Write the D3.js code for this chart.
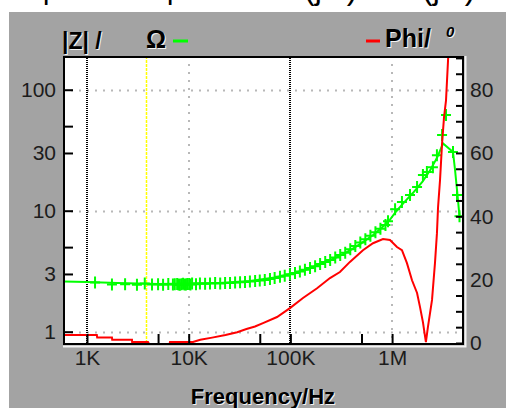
<!DOCTYPE html>
<html>
<head>
<meta charset="UTF-8">
<title>Impedance spectrum</title>
<script src="https://d3js.org/d3.v7.min.js"></script>
<style>
  body { margin: 0; background: #fff; }
  text { font-family: "Liberation Sans", Arial, sans-serif; }
</style>
</head>
<body>
<div id="chart"></div>
<script>

// tick values and labels
var freqTicks = [1e3, 5e3, 1e4, 5e4, 1e5, 5e5, 1e6];
var freqLabels = { 1e3: "1K", 1e4: "10K", 1e5: "100K", 1e6: "1M" };
var zTicks = [1, 3, 5, 10, 30, 50, 100];
var zLabels = [1, 3, 10, 30, 100];
var phiTicks = [0, 5, 10, 15, 20, 25, 30, 35, 40, 45, 50, 55, 60, 65, 70, 75, 80, 85, 90];
var phiLabels = [0, 20, 40, 60, 80];
var cursorFreq = 3800;

// |Z| measured points (green + markers)
var markFreq = [1200, 1760, 2370, 3100, 3700, 4360, 5000, 5600, 6300, 7000, 7300, 7700, 7950, 8200,
  8500, 8800, 9100, 9400, 9700, 10100, 10400, 10800, 11800, 12900, 14500, 16200, 18200, 20400, 22800,
  25500, 28600, 32000, 35800, 40000, 45000, 50000, 56000, 63000, 70000, 79000, 88000, 99000, 111000,
  124000, 139000, 156000, 175000, 196000, 220000, 246000, 276000, 309000, 346000, 388000, 435000,
  487000, 546000, 612000, 686000, 768000, 861000, 912000, 1070000, 1250000, 1500000, 1760000,
  2010000, 2200000, 2520000, 2760000, 3100000, 3390000, 3970000, 4350000, 4600000];
var markZ = [2.55, 2.45, 2.47, 2.44, 2.5, 2.45, 2.47, 2.44, 2.48, 2.45, 2.47, 2.48, 2.45, 2.44,
  2.47, 2.49, 2.46, 2.45, 2.48, 2.48, 2.46, 2.5, 2.47, 2.5, 2.49, 2.5, 2.52, 2.5, 2.53,
  2.52, 2.55, 2.56, 2.58, 2.6, 2.62, 2.65, 2.68, 2.72, 2.78, 2.84, 2.9, 2.98, 3.06,
  3.15, 3.25, 3.36, 3.48, 3.62, 3.76, 3.92, 4.1, 4.3, 4.5, 4.8, 5.1,
  5.45, 5.8, 6.2, 6.65, 7.1, 7.6, 8.2, 10.3, 11.8, 13.5, 15.7,
  19.7, 20.9, 22.9, 28.8, 42.3, 61.8, 30.6, 13.5, 9.0];

// |Z| fitted curve (green line)
var fitFreq = [581, 1000, 2000, 5000, 10000, 20000, 40000, 70000, 100000, 150000, 245000, 300000,
  400000, 500000, 650000, 800000, 950000, 1100000, 1300000, 1600000, 2000000, 2400000, 2800000,
  3170000, 3970000, 4160000, 4350000, 4600000];
var fitZ = [2.6, 2.58, 2.52, 2.48, 2.5, 2.53, 2.62, 2.8, 3.0, 3.3, 3.9, 4.2,
  4.8, 5.4, 6.3, 7.3, 8.4, 9.9, 11.6, 14, 17.5, 22, 28,
  36, 30.6, 21.7, 14.8, 9.0];

// phase (red line)
var phiFreq = [581, 1250, 1260, 1760, 1770, 2770, 2780, 3980, 4200, 6400, 6550, 11000, 13000, 17000,
  23000, 30000, 37000, 44900, 53800, 73900, 99000, 133000, 183000, 245000, 307000, 385000, 517000,
  649000, 814000, 953000, 1117000, 1250000, 1400000, 1570000, 1760000, 1880000, 2010000, 2150000,
  2250000, 2470000, 2640000, 2760000, 2830000, 2960000, 3100000, 3240000, 3390000, 3550000, 3630000];
var phiDeg = [2.5, 2.5, 1.7, 1.7, 1.0, 1.0, 0.3, 0.3, -1, -1, 0.3, 0.3, 1.0, 1.7,
  2.5, 3.4, 4.4, 5.2, 6.3, 8.2, 11, 14.2, 17.3, 20.5, 22.4, 25.6, 29.3,
  31.5, 32.8, 32.5, 30.3, 29.3, 25.2, 19.8, 15.8, 11.4, 6.6, 0.3,
  5, 13.6, 25.2, 34.6, 42.8, 51.4, 63, 71.2, 76.6, 89.3, 95.6];

var width = 506, height = 408;
var plot = { left: 63, top: 56, right: 463, bottom: 344 };

var svg = d3.select("#chart").append("svg")
  .attr("width", width)
  .attr("height", height);

// gray panel
svg.append("rect")
  .attr("x", 9).attr("y", 12)
  .attr("width", width - 9).attr("height", height - 12)
  .attr("fill", "#a3a3a3");

// bottom of a text line above, cut off by the picture edge
var topFrag = svg.append("g")
  .style("font-family", "'Liberation Serif', serif")
  .style("font-size", "32px")
  .attr("fill", "#000");
topFrag.append("text").attr("x", 42).attr("y", -2).text("|");
topFrag.append("text").attr("x", 166).attr("y", -2).text("|");
topFrag.append("text").attr("x", 304).attr("y", -1).text("(jω)");
topFrag.append("text").attr("x", 422).attr("y", -1).text("(jω)");
svg.append("rect").attr("x", 0).attr("y", 12).attr("width", width).attr("height", 30).attr("fill", "#a3a3a3");
svg.append("rect").attr("x", 0).attr("y", 12).attr("width", 9).attr("height", height).attr("fill", "#fff");

var x = d3.scaleLog().domain([581, 4.98e6]).range([plot.left, plot.right]);
var yZ = d3.scaleLog().domain([0.791, 190]).range([plot.bottom, plot.top]);
var yPhi = d3.scaleLinear().domain([0, 90.6]).range([343, plot.top]);

svg.append("rect")
  .attr("x", plot.left).attr("y", plot.top)
  .attr("width", plot.right - plot.left).attr("height", plot.bottom - plot.top)
  .attr("fill", "#fff");

svg.append("clipPath").attr("id", "clip")
  .append("rect")
  .attr("x", plot.left + 1).attr("y", plot.top + 1)
  .attr("width", plot.right - plot.left - 2).attr("height", plot.bottom - plot.top - 2);

var grid = svg.append("g");

// horizontal grid at decades of |Z|
[1, 10, 100].forEach(function (v) {
  grid.append("line")
    .attr("x1", plot.left).attr("x2", plot.right)
    .attr("y1", Math.round(yZ(v)) + 0.5).attr("y2", Math.round(yZ(v)) + 0.5)
    .attr("stroke", "#b8b8b8").attr("stroke-width", 2)
    .attr("stroke-dasharray", "2,6");
});

// vertical grid
[1e3, 1e4, 1e5, 1e6].forEach(function (f, i) {
  var dark = (i % 2 == 0);
  grid.append("line")
    .attr("x1", Math.round(x(f))).attr("x2", Math.round(x(f)))
    .attr("y1", plot.top).attr("y2", plot.bottom)
    .attr("stroke", dark ? "#000" : "#b8b8b8")
    .attr("stroke-width", 2)
    .attr("stroke-dasharray", dark ? "1,1" : "2,6");
});

// cursor
grid.append("line")
  .attr("x1", Math.round(x(cursorFreq)) + 0.5).attr("x2", Math.round(x(cursorFreq)) + 0.5)
  .attr("y1", plot.top).attr("y2", plot.bottom)
  .attr("stroke", "#ffff00").attr("stroke-width", 1.5)
  .attr("stroke-dasharray", "3,1");

var data = svg.append("g").attr("clip-path", "url(#clip)");

var fit = fitFreq.map(function (f, i) { return { f: f, v: fitZ[i] }; });
var marks = markFreq.map(function (f, i) { return { f: f, v: markZ[i] }; });
var phase = phiFreq.map(function (f, i) { return { f: f, v: phiDeg[i] }; });

data.append("path")
  .datum(fit)
  .attr("fill", "none")
  .attr("stroke", "#00ff00")
  .attr("stroke-width", 2)
  .attr("d", d3.line()
    .x(function (d) { return x(d.f); })
    .y(function (d) { return yZ(d.v); }));

data.selectAll(".mark")
  .data(marks)
  .enter().append("path")
  .attr("class", "mark")
  .attr("transform", function (d) { return "translate(" + x(d.f) + "," + yZ(d.v) + ")"; })
  .attr("d", "M-5,0H5M0,-6V6")
  .attr("stroke", "#00ff00")
  .attr("stroke-width", 2);

data.append("path")
  .datum(phase)
  .attr("fill", "none")
  .attr("stroke", "#ff0000")
  .attr("stroke-width", 2)
  .attr("d", d3.line()
    .x(function (d) { return x(d.f); })
    .y(function (d) { return yPhi(d.v); }));

// axes
var leftAxis = svg.append("g")
  .attr("transform", "translate(" + plot.left + ",0)")
  .call(d3.axisLeft(yZ)
    .tickValues(zTicks)
    .tickSize(-10)
    .tickPadding(7)
    .tickFormat(function (d) { return zLabels.indexOf(d) >= 0 ? d : ""; }));

var rightAxis = svg.append("g")
  .attr("transform", "translate(" + plot.right + ",0)")
  .call(d3.axisRight(yPhi)
    .tickValues(phiTicks)
    .tickSize(-7)
    .tickPadding(7)
    .tickFormat(function (d) { return phiLabels.indexOf(d) >= 0 ? d : ""; }));

var bottomAxis = svg.append("g")
  .attr("transform", "translate(0," + plot.bottom + ")")
  .call(d3.axisBottom(x)
    .tickValues(freqTicks)
    .tickSize(-10)
    .tickPadding(6)
    .tickFormat(function (d) { return freqLabels[d] || ""; }));

[leftAxis, rightAxis, bottomAxis].forEach(function (a) {
  a.select(".domain").remove();
  a.selectAll(".tick line").attr("stroke", "#000").attr("stroke-width", 2);
  a.selectAll(".tick text")
    .attr("fill", "#1c1c1c")
    .style("font-size", "21px")
    .style("font-family", "'Liberation Sans', Arial, sans-serif");
});

// frame: dark top/left, light bottom/right
svg.append("rect")
  .attr("x", plot.left + 1).attr("y", plot.top + 1)
  .attr("width", plot.right - plot.left - 1).attr("height", plot.bottom - plot.top - 1)
  .attr("fill", "none").attr("stroke", "#000").attr("stroke-width", 2);
svg.append("path")
  .attr("d", "M" + (plot.right + 2.5) + "," + plot.top + "V" + (plot.bottom + 2.5) + "H" + plot.left)
  .attr("fill", "none").attr("stroke", "#f4f4f4").attr("stroke-width", 2);

// titles with light shadow
function label(t, xp, yp, size, weight, style, anchor) {
  [["#f4f4f4", 1], ["#000", 0]].forEach(function (c) {
    svg.append("text")
      .attr("x", xp + c[1]).attr("y", yp + c[1])
      .attr("fill", c[0])
      .attr("text-anchor", anchor || "start")
      .style("font-size", size + "px")
      .style("font-weight", weight)
      .style("font-style", style || "normal")
      .text(t);
  });
}

label("|Z| /", 62, 49, 23, "bold");
label("Ω", 146, 48, 25, "bold");
label("Phi/", 385, 47, 25, "bold");
label("0", 446, 37, 15, "bold", "italic");
label("Frequency/Hz", 263, 404, 22, "bold", "normal", "middle");

svg.append("line").attr("x1", 173).attr("x2", 188).attr("y1", 41).attr("y2", 41)
  .attr("stroke", "#00ff00").attr("stroke-width", 3);
svg.append("line").attr("x1", 366).attr("x2", 380).attr("y1", 41).attr("y2", 41)
  .attr("stroke", "#ff0000").attr("stroke-width", 3);

</script>
</body>
</html>
